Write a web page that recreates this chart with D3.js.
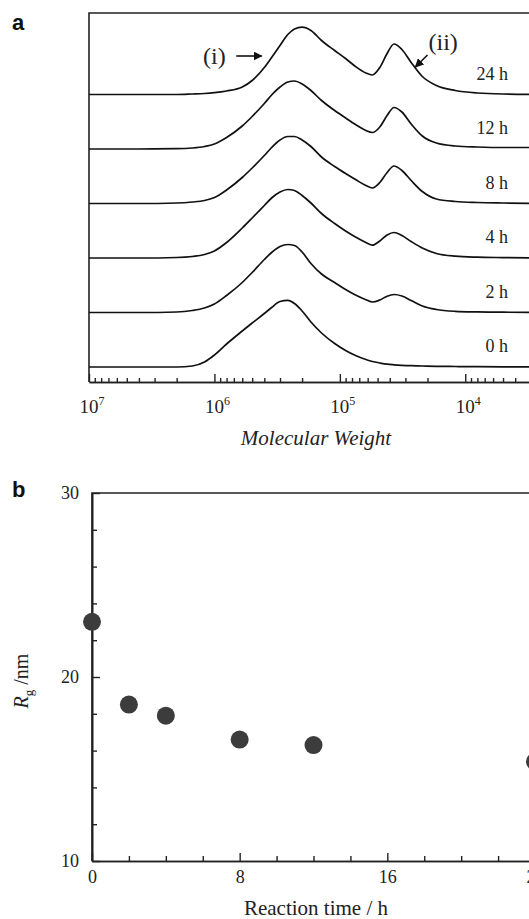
<!DOCTYPE html>
<html>
<head>
<meta charset="utf-8">
<script src="https://d3js.org/d3.v7.min.js"></script>
<style>
  body { margin: 0; background: #fff; }
  svg { display: block; }
  text { font-family: "Liberation Serif", "Times New Roman", serif; fill: #222; }
  .panel-tag { font-family: "Liberation Sans", Arial, sans-serif; font-weight: bold; fill: #111; }
</style>
</head>
<body>
<script>

// GPC traces, molecular weight (descending) and detector response (a.u.)
var mw = [1e7, 4e6, 2e6, 1.5e6, 1.2e6, 1e6, 8e5, 6e5, 5e5, 4e5, 3.5e5, 3e5, 2.6e5, 2.3e5, 2e5, 1.7e5,
          1.4e5, 1.1e5, 9e4, 7.5e4, 6.2e4, 5.5e4, 4.8e4, 4.2e4, 3.7e4, 3.2e4, 2.7e4, 2.2e4, 1.7e4,
          1.2e4, 8e3, 5e3, 2e3];

var ri0h  = [0, 0, 0, 1, 5, 12, 23, 36, 44, 53.5, 59.5, 65.5, 66.6, 63.5, 56, 45, 34, 23.5, 16.5, 11.5, 7.5, 5.5, 4, 2.8, 2.2, 1.7, 1.3, 1, 0.7, 0.5, 0.3, 0.2, 0];
var ri2h  = [0, 0, 0.5, 2, 4.5, 8.5, 17, 30, 40, 53, 60, 66, 68, 67, 60.5, 49, 38.5, 30, 23, 17.5, 12.8, 10.5, 12.5, 16.3, 18, 16.5, 12, 6.5, 3, 1.2, 0.6, 0.3, 0];
var ri4h  = [0, 0, 0.5, 1.5, 3.5, 7, 15.5, 30, 40, 52.5, 60, 66, 68.5, 67.5, 62.5, 55, 44.5, 34.5, 27, 21, 15.5, 12.8, 17, 23, 25.5, 22.5, 16.5, 10, 4.5, 1.8, 0.8, 0.4, 0];
var ri8h  = [0, 0, 0.5, 1.5, 3, 6, 13.5, 26, 35.5, 48, 56, 63.5, 67, 67, 63.5, 57, 46.5, 37, 30, 24, 18, 15.5, 21, 31, 37.5, 33, 23, 12, 4.5, 2, 1, 0.5, 0];
var ri12h = [0, 0, 0.3, 1, 2.5, 5, 11.5, 23, 32.5, 45.5, 54, 62, 67, 68, 65, 58.5, 48.5, 38.5, 31, 24.5, 18.5, 16.5, 22, 33.5, 41.5, 37, 25, 13, 6, 3, 2, 1.5, 1.5];
var ri24h = [0, 0, 0, 0.5, 1, 1.8, 3.5, 7.5, 14, 27, 37, 49, 60, 65.5, 67.3, 64, 54, 44, 36, 28, 21.5, 19.5, 27, 41, 50.5, 45, 32, 18, 9, 4, 1.5, 0.5, 0];

var traceLabels = ['0 h', '2 h', '4 h', '8 h', '12 h', '24 h'];
var traces = [ri0h, ri2h, ri4h, ri8h, ri12h, ri24h];

var decades = [1e7, 1e6, 1e5, 1e4, 1e3];
var exponents = ['7', '6', '5', '4', '3'];

// radius of gyration vs reaction time
var rgTime  = [0, 2, 4, 8, 12, 24];
var rgValue = [23.0, 18.5, 17.9, 16.6, 16.3, 15.4];

var timeTicks = [0, 8, 16, 24];
var rgTicks = [10, 20, 30];


var svg = d3.select('body').append('svg')
    .attr('width', 529)
    .attr('height', 919);


// ---------- panel a ----------

var xa = d3.scaleLog().domain([1e7, 2.4e3]).range([89, 543]);
var ya = d3.scaleLinear().domain([0, 369]).range([382, 13]);

var gA = svg.append('g');

var minorA = [];
[1e3, 1e4, 1e5, 1e6].forEach(function(d) {
    for (var k = 2; k <= 9; k++) {
        var v = k * d;
        if (v <= 1e7 && v >= 2.4e3) minorA.push(v);
    }
});

gA.append('g')
    .attr('class', 'axis')
    .attr('transform', 'translate(0,382)')
    .call(d3.axisBottom(xa).tickValues(minorA).tickSizeInner(-4).tickSizeOuter(0).tickFormat(''));

gA.append('g')
    .attr('class', 'axis')
    .attr('transform', 'translate(0,382)')
    .call(d3.axisBottom(xa).tickValues(decades.filter(function(d) { return d >= 2.4e3; }))
        .tickSizeInner(-8).tickSizeOuter(0).tickFormat(''));

// frame
gA.append('path')
    .attr('d', d3.line()([[xa.range()[0], ya(0)], [xa.range()[0], ya.range()[1]], [xa.range()[1], ya.range()[1]], [xa.range()[1], ya(0)]]))
    .attr('fill', 'none')
    .attr('stroke', '#222')
    .attr('stroke-width', 1.6);

decades.forEach(function(d, i) {
    if (d < 2.4e3) return;
    var t = gA.append('text')
        .attr('x', xa(d) + 3)
        .attr('y', 413)
        .attr('text-anchor', 'middle')
        .style('font-size', '19px');
    t.append('tspan').text('10');
    t.append('tspan').attr('dy', -8).style('font-size', '12px').text(exponents[i]);
});

gA.append('text')
    .attr('x', 316)
    .attr('y', 445)
    .attr('text-anchor', 'middle')
    .style('font-size', '21px')
    .style('font-style', 'italic')
    .text('Molecular Weight');

var trace = d3.line()
    .x(function(d) { return xa(d[0]); })
    .y(function(d) { return ya(d[1]); })
    .curve(d3.curveMonotoneX);

traces.forEach(function(ri, i) {

    var base = 15 + 54.5 * i;

    var pts = mw.map(function(m, j) { return [m, base + ri[j]]; });

    gA.append('path')
        .attr('d', trace(pts))
        .attr('fill', 'none')
        .attr('stroke', '#111')
        .attr('stroke-width', 1.7)
        .attr('stroke-linejoin', 'round');

    gA.append('text')
        .attr('x', 508)
        .attr('y', ya(base) - 15)
        .attr('text-anchor', 'end')
        .style('font-size', '18px')
        .text(traceLabels[i]);
});

// peak annotations
svg.append('defs').append('marker')
    .attr('id', 'head')
    .attr('viewBox', '0 0 10 10')
    .attr('refX', 9)
    .attr('refY', 5)
    .attr('markerWidth', 9)
    .attr('markerHeight', 9)
    .attr('markerUnits', 'userSpaceOnUse')
    .attr('orient', 'auto')
    .append('path')
    .attr('d', 'M0,0 L10,5 L0,10 Z')
    .attr('fill', '#111');

gA.append('text')
    .attr('x', xa(1e6))
    .attr('y', 64)
    .attr('text-anchor', 'middle')
    .style('font-size', '24px')
    .text('(i)');

gA.append('line')
    .attr('x1', xa(6.7e5)).attr('y1', 56)
    .attr('x2', xa(4.2e5)).attr('y2', 56)
    .attr('stroke', '#111')
    .attr('stroke-width', 1.6)
    .attr('marker-end', 'url(#head)');

gA.append('text')
    .attr('x', xa(1.5e4))
    .attr('y', 50)
    .attr('text-anchor', 'middle')
    .style('font-size', '24px')
    .text('(ii)');

gA.append('line')
    .attr('x1', xa(2e4)).attr('y1', 55)
    .attr('x2', xa(2.5e4)).attr('y2', 67)
    .attr('stroke', '#111')
    .attr('stroke-width', 1.6)
    .attr('marker-end', 'url(#head)');

svg.append('text')
    .attr('class', 'panel-tag')
    .attr('x', 12)
    .attr('y', 30)
    .style('font-size', '22px')
    .text('a');


// ---------- panel b ----------

var xb = d3.scaleLinear().domain([0, 24]).range([92, 535]);
var yb = d3.scaleLinear().domain([10, 30]).range([861, 493]);

var gB = svg.append('g');

var minorX = d3.range(2, 24, 2).filter(function(v) { return v % 8 != 0; });
var minorY = d3.range(12, 30, 2).filter(function(v) { return v % 10 != 0; });

gB.append('g')
    .attr('class', 'axis')
    .attr('transform', 'translate(0,861)')
    .call(d3.axisBottom(xb).tickValues(minorX).tickSizeInner(-5).tickSizeOuter(0).tickFormat(''));

gB.append('g')
    .attr('class', 'axis labelled')
    .attr('transform', 'translate(0,861)')
    .call(d3.axisBottom(xb).tickValues(timeTicks).tickSizeInner(-8).tickSizeOuter(0).tickPadding(9));

gB.append('g')
    .attr('class', 'axis')
    .attr('transform', 'translate(92,0)')
    .call(d3.axisLeft(yb).tickValues(minorY).tickSizeInner(-5).tickSizeOuter(0).tickFormat(''));

gB.append('g')
    .attr('class', 'axis labelled')
    .attr('transform', 'translate(92,0)')
    .call(d3.axisLeft(yb).tickValues(rgTicks).tickSizeInner(-8).tickSizeOuter(0).tickPadding(13));

gB.append('path')
    .attr('d', d3.line()([[xb(0), yb(10)], [xb(0), yb(30)], [xb(24), yb(30)], [xb(24), yb(10)]]))
    .attr('fill', 'none')
    .attr('stroke', '#222')
    .attr('stroke-width', 1.6);

gB.selectAll('circle.rg')
    .data(rgTime)
    .enter()
    .append('circle')
    .attr('class', 'rg')
    .attr('cx', function(d) { return xb(d); })
    .attr('cy', function(d, i) { return yb(rgValue[i]); })
    .attr('r', 9)
    .attr('fill', '#3c3c3c');

gB.append('text')
    .attr('x', 316)
    .attr('y', 915)
    .attr('text-anchor', 'middle')
    .style('font-size', '21px')
    .text('Reaction time / h');

var ylab = gB.append('text')
    .attr('transform', 'translate(28,681) rotate(-90)')
    .attr('text-anchor', 'middle')
    .style('font-size', '20px');
ylab.append('tspan').style('font-style', 'italic').text('R');
ylab.append('tspan').attr('dy', 5).style('font-size', '13px').text('g');
ylab.append('tspan').attr('dy', -5).text(' /nm');

svg.append('text')
    .attr('class', 'panel-tag')
    .attr('x', 12)
    .attr('y', 497)
    .style('font-size', '22px')
    .text('b');


// shared axis styling
svg.selectAll('.axis .domain')
    .attr('stroke', '#222')
    .attr('stroke-width', 1.6);

svg.selectAll('.axis .tick line')
    .attr('stroke', '#222')
    .attr('stroke-width', 1.4);

svg.selectAll('.axis.labelled .tick text')
    .attr('fill', '#222')
    .style('font-family', '"Liberation Serif", "Times New Roman", serif')
    .style('font-size', '18px');

</script>
</body>
</html>
